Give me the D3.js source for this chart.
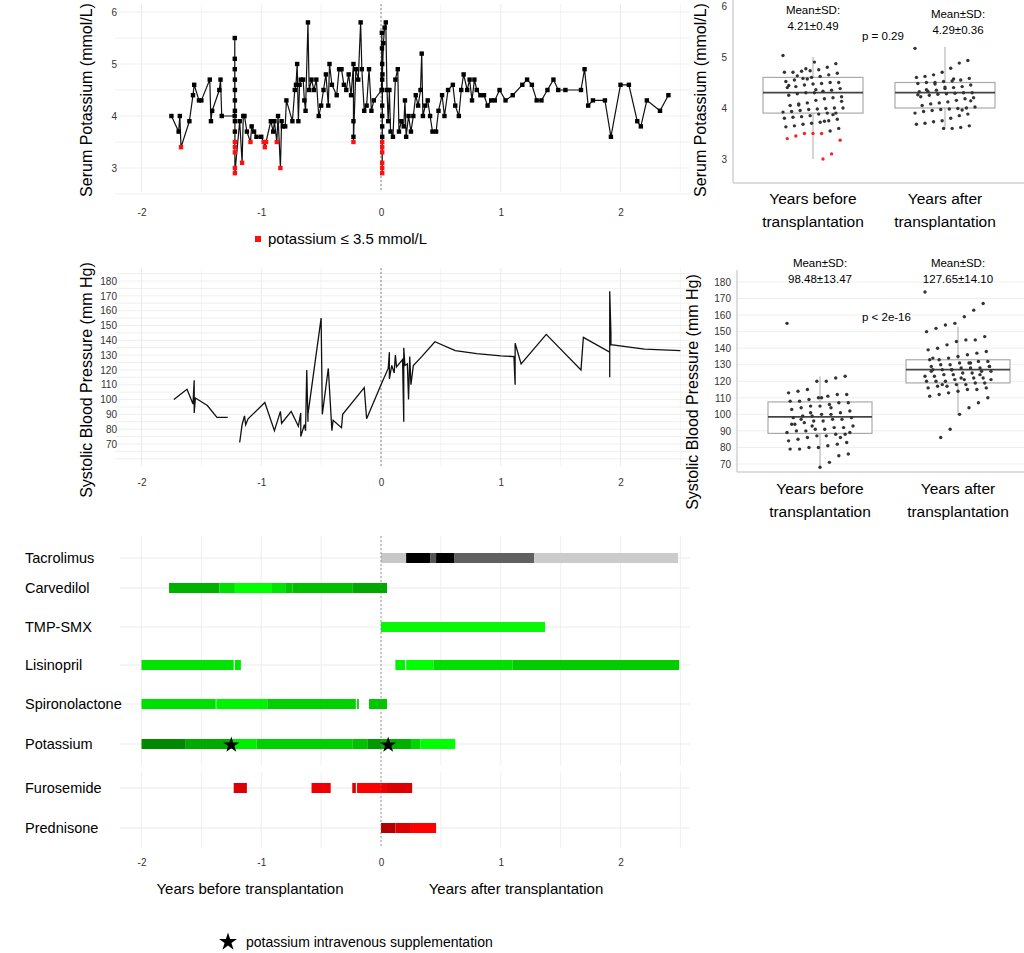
<!DOCTYPE html>
<html><head><meta charset="utf-8">
<script src="https://cdn.jsdelivr.net/npm/d3@7"></script>
<style>body{margin:0;background:#fff}svg{font-family:"Liberation Sans",Arial,sans-serif}</style>
</head><body><svg id="c" width="1024" height="953"></svg>
<script>
// serum potassium over time [years, mmol/L]
const potassium = [[-1.75,4.0],[-1.69,3.7],[-1.68,4.0],[-1.67,3.4],[-1.60,3.9],[-1.57,4.4],[-1.56,4.6],[-1.52,4.3],[-1.50,4.3],[-1.43,4.7],[-1.42,3.9],[-1.41,4.1],[-1.35,4.5],[-1.34,4.7],[-1.33,4.0],[-1.222,4.0],
[-1.221,5.5],[-1.221,5.1],[-1.221,4.9],[-1.22,4.7],[-1.22,4.5],[-1.22,4.3],[-1.22,4.1],[-1.22,3.9],[-1.22,3.7],[-1.22,3.5],[-1.22,3.4],[-1.22,3.3],[-1.22,3.0],[-1.22,2.9],
[-1.18,3.9],[-1.16,3.1],[-1.15,4.0],[-1.14,4.0],[-1.12,3.7],[-1.09,3.5],[-1.08,3.8],[-1.06,3.7],[-1.04,3.6],[-1.0,3.6],[-0.98,3.5],[-0.97,3.4],[-0.96,3.5],[-0.92,3.9],[-0.90,3.7],[-0.89,3.9],[-0.87,3.5],[-0.86,4.0],[-0.84,3.0],[-0.83,3.9],[-0.82,3.8],[-0.80,3.8],[-0.79,4.3],[-0.74,3.9],[-0.72,4.5],[-0.71,4.6],[-0.70,5.0],[-0.69,3.9],[-0.68,4.6],[-0.67,4.7],[-0.65,4.7],[-0.64,4.3],[-0.63,4.1],[-0.61,5.8],[-0.60,4.5],[-0.58,4.7],[-0.56,4.5],[-0.54,4.7],[-0.52,4.0],[-0.50,4.2],[-0.48,4.5],[-0.46,4.8],[-0.44,4.2],[-0.43,5.0],[-0.41,4.6],[-0.37,4.4],[-0.35,4.9],[-0.33,4.9],[-0.31,4.6],[-0.29,4.5],[-0.27,4.8],[-0.25,4.4],[-0.23,5.0],[-0.23,3.9],[-0.23,3.6],[-0.23,3.5],[-0.21,4.9],[-0.19,4.7],[-0.17,5.8],[-0.16,4.9],[-0.14,4.1],[-0.12,4.2],[-0.10,4.9],[-0.08,4.1],[-0.06,4.3],
[0.005,4.5],[0.007,5.6],[0.008,5.3],[0.01,5.0],[0.01,4.7],[0.01,4.5],[0.01,4.2],[0.01,4.0],[0.01,3.8],[0.01,3.6],[0.01,3.5],[0.01,3.4],[0.01,3.3],[0.01,3.1],[0.01,3.0],[0.01,2.9],[0.012,4.8],[0.02,5.4],
[0.03,5.7],[0.04,5.8],[0.05,4.5],[0.06,3.9],[0.07,4.5],[0.08,3.7],[0.10,3.6],[0.12,4.7],[0.14,4.9],[0.15,3.7],[0.17,3.9],[0.19,3.8],[0.20,4.3],[0.21,3.6],[0.23,4.0],[0.25,3.7],[0.27,4.0],[0.29,4.4],[0.31,4.2],[0.33,4.5],[0.34,5.2],[0.35,4.0],[0.37,4.2],[0.39,4.3],[0.41,4.0],[0.43,3.7],[0.46,3.7],[0.48,4.1],[0.51,4.4],[0.53,4.0],[0.56,4.5],[0.60,4.6],[0.62,4.2],[0.65,4.0],[0.67,4.5],[0.69,4.8],[0.72,4.5],[0.74,4.7],[0.76,4.3],[0.78,4.7],[0.80,4.5],[0.83,4.4],[0.86,4.4],[0.89,4.2],[0.92,4.3],[0.95,4.3],[0.99,4.5],[1.04,4.3],[1.10,4.4],[1.18,4.6],[1.22,4.7],[1.26,4.6],[1.30,4.3],[1.34,4.3],[1.39,4.5],[1.44,4.7],[1.48,4.5],[1.54,4.5],[1.67,4.5],[1.70,4.9],[1.73,4.2],[1.77,4.3],[1.87,4.3],[1.92,3.6],[2.00,4.6],[2.07,4.6],[2.14,3.9],[2.17,3.8],[2.22,4.3],[2.33,4.1],[2.40,4.4]];

// systolic BP over time, two runs
const bpRun1 = [[-1.73,100],[-1.62,107],[-1.57,97],[-1.56,113],[-1.56,91],[-1.55,101],[-1.45,96],[-1.37,88],[-1.28,88]];
const bpRun2 = [[-1.18,71],[-1.16,83],[-1.14,89],[-1.13,83],[-1.11,87],[-0.97,98],[-0.89,79],[-0.84,92],[-0.83,84],[-0.75,92],[-0.69,82],[-0.67,91],[-0.67,75],[-0.64,83],[-0.63,79],[-0.62,120],[-0.61,85],[-0.61,90],[-0.50,155],[-0.49,90],[-0.44,121],[-0.41,79],[-0.40,86],[-0.33,81],[-0.32,90],[-0.14,108],[-0.12,87],[0.0,110],[0.06,121],[0.07,132],[0.07,114],[0.09,123],[0.11,118],[0.12,130],[0.13,122],[0.18,127],[0.19,85],[0.19,135],[0.20,123],[0.22,124],[0.23,100],[0.24,129],[0.25,110],[0.27,123],[0.34,129],[0.45,139],[0.62,133],[0.80,131],[1.0,129.5],[1.11,129],[1.12,110],[1.12,138],[1.17,124],[1.38,144],[1.67,120],[1.69,142],[1.91,132],[1.91,115],[1.91,173],[1.92,145],[1.92,137],[2.2,134],[2.5,133]];

// box plot samples
const kBefore = [5.03,4.87,4.8,4.75,4.73,4.72,4.7,4.7,4.68,4.65,4.62,4.6,4.58,4.55,4.52,4.5,4.5,4.48,4.47,4.45,4.42,4.4,4.38,4.35,4.33,4.3,4.3,4.28,4.25,4.22,4.2,4.18,4.15,4.1,4.08,4.05,4.0,4.0,3.99,3.98,3.97,3.95,3.93,3.92,3.9,3.9,3.88,3.85,3.83,3.82,3.8,3.78,3.75,3.72,3.7,3.68,3.65,3.63,3.6,3.55,3.5,3.5,3.5,3.45,3.4,3.37,3.1,3.0,4.9,4.77,4.63,4.44,4.13,3.87,3.74,4.36,4.57,4.06];
const kAfter = [5.17,4.93,4.88,4.78,4.7,4.65,4.62,4.6,4.58,4.55,4.53,4.52,4.5,4.5,4.48,4.45,4.42,4.4,4.38,4.35,4.33,4.32,4.3,4.3,4.29,4.28,4.27,4.25,4.22,4.2,4.18,4.15,4.12,4.1,4.08,4.05,4.02,4.0,3.99,3.98,3.97,3.95,3.93,3.9,3.88,3.85,3.8,3.75,3.73,3.7,3.68,3.65,3.62,3.6,3.6,4.47,4.36,4.26,4.14,3.96,4.57,4.41];
const bpBefore = [155,123,122,120,120,115,114,113,112,112,111,110,109,108,108,107,107,106,105,105,104,103,102,101,100,100,99,99,98,98,97,97,96,96,95,94,93,92,92,91,91,90,90,89,88,88,87,87,86,85,84,83,82,81,80,80,79,79,76,75,71,68,101,97,94,89,86,104,110,93];
const bpAfter = [174,167,163,159,155,154,152,150,147,145,145,144,142,140,139,138,137,136,135,134,133,133,132,132,131,131,130,130,129,129,128,128,128,127,127,127,126,126,125,125,124,124,123,123,122,122,121,121,120,120,120,119,119,118,118,117,117,116,116,115,115,114,113,112,111,110,107,104,100,91,86,126,129,124,131,122,127,118,134,121];
const boxCats = ["Years before\ntransplantation", "Years after\ntransplantation"];
const kStats = [{q1:3.9,med:4.3,q3:4.6,lo:3.0,hi:5.0},{q1:4.0,med:4.3,q3:4.5,lo:3.6,hi:5.2}];
const bpStats = [{q1:88.5,med:98.5,q3:107.5,lo:68.5,hi:123},{q1:119,med:127,q3:133,lo:100,hi:153}];
const kNotes = ["4.21±0.49","4.29±0.36"];
const bpNotes = ["98.48±13.47","127.65±14.10"];

// medication timeline
const drugs = ["Tacrolimus","Carvedilol","TMP-SMX","Lisinopril","Spironolactone","Potassium","Furosemide","Prednisone"];
const doses = [
 ["Tacrolimus",0,0.21,"#c8c8c8"],["Tacrolimus",0.21,0.41,"#000"],["Tacrolimus",0.41,0.46,"#555"],["Tacrolimus",0.46,0.61,"#000"],["Tacrolimus",0.61,1.28,"#606060"],["Tacrolimus",1.28,2.48,"#cbcbcb"],
 ["Carvedilol",-1.77,-1.35,"#00b000"],["Carvedilol",-1.35,-1.22,"#00dd00"],["Carvedilol",-1.22,-0.91,"#00ff00"],["Carvedilol",-0.91,-0.80,"#00e400"],["Carvedilol",-0.80,-0.74,"#00c800"],["Carvedilol",-0.74,-0.24,"#00bf00"],["Carvedilol",-0.24,0.05,"#00a800"],
 ["TMP-SMX",0,1.37,"#08f808"],
 ["Lisinopril",-2.0,-1.23,"#00e400"],["Lisinopril",-1.22,-1.17,"#00ea00"],["Lisinopril",0.12,0.20,"#00f400"],["Lisinopril",0.21,0.44,"#00ff00"],["Lisinopril",0.44,1.10,"#00e000"],["Lisinopril",1.10,2.49,"#00cc00"],
 ["Spironolactone",-2.0,-1.38,"#00e000"],["Spironolactone",-1.375,-0.95,"#00f400"],["Spironolactone",-0.95,-0.21,"#00d000"],["Spironolactone",-0.20,-0.185,"#00d000"],["Spironolactone",-0.10,0.05,"#00c800"],
 ["Potassium",-2.0,-1.63,"#008800"],["Potassium",-1.63,-1.26,"#00aa00"],["Potassium",-1.26,-1.04,"#00ee00"],["Potassium",-1.04,-0.24,"#00d000"],["Potassium",-0.24,-0.11,"#00c000"],["Potassium",-0.11,0,"#009900"],["Potassium",0,0.25,"#00b000"],["Potassium",0.25,0.33,"#00d800"],["Potassium",0.33,0.62,"#00ff00"],
 ["Furosemide",-1.23,-1.12,"#dd0000"],["Furosemide",-0.58,-0.42,"#ee0000"],["Furosemide",-0.24,-0.21,"#dd0000"],["Furosemide",-0.20,0,"#ff0000"],["Furosemide",0,0.05,"#ee0000"],["Furosemide",0.05,0.26,"#dd0000"],
 ["Prednisone",0,0.12,"#b00000"],["Prednisone",0.12,0.25,"#dd0000"],["Prednisone",0.25,0.46,"#ff0000"]];
const ivStars = [-1.25, 0.06];
const xTicks = [-2,-1,0,1,2];

const svg = d3.select("#c");
const grid = "#ebebeb";
const fmt = d => String(d);
const x = d3.scaleLinear().domain([-2,2]).range([141.5,620.5]);
const xGrid = d3.range(-2,2.51,0.5);

function timeGrid(top, bottom, ys, yScale) {
  const g = svg.append("g");
  g.selectAll(".v").data(xGrid).join("line").attr("x1",d=>x(d)).attr("x2",d=>x(d)).attr("y1",top).attr("y2",bottom).attr("stroke",grid).attr("stroke-width",d=>Number.isInteger(d)?1:0.6);
  if (ys) g.selectAll(".h").data(ys).join("line").attr("x1",115).attr("x2",690).attr("y1",d=>yScale(d)).attr("y2",d=>yScale(d)).attr("stroke",grid).attr("stroke-width",0.8);
  g.append("line").attr("x1",x(0)).attr("x2",x(0)).attr("y1",top).attr("y2",bottom).attr("stroke","#888").attr("stroke-dasharray","2,2");
}
function xAxisAt(y) {
  const a = svg.append("g").attr("transform",`translate(0,${y})`).call(d3.axisBottom(x).tickValues(xTicks).tickSize(0).tickFormat(fmt));
  a.select(".domain").remove();
  a.selectAll("text").attr("fill","#333").style("font-size","10px");
}
function yTitle(tx, ty, s, size) {
  svg.append("text").attr("transform",`translate(${tx},${ty}) rotate(-90)`).attr("text-anchor","middle").style("font-size",size+"px").text(s);
}

// panel 1: potassium
const yK = d3.scaleLinear().domain([3,6]).range([168,12]);
timeGrid(4, 192, d3.range(2.5,6.01,0.5), yK);
const kl = svg.append("g").attr("transform","translate(120,0)")
  .call(d3.axisLeft(yK).tickValues([3,4,5,6]).tickSize(0).tickFormat(fmt));
kl.select(".domain").remove(); kl.selectAll("text").attr("fill","#333").style("font-size","10px");
svg.append("path").datum(potassium).attr("fill","none").attr("stroke","#111").attr("stroke-width",1.2)
  .attr("d",d3.line().x(d=>x(d[0])).y(d=>yK(d[1])));
svg.append("g").selectAll("rect").data(potassium).join("rect")
  .attr("x",d=>x(d[0])-2.2).attr("y",d=>yK(d[1])-2.2).attr("width",4.4).attr("height",4.4)
  .attr("fill",d=>d[1]<=3.5?"#ff1010":"#000");
xAxisAt(206);
yTitle(92, 100, "Serum Potassium (mmol/L)", 16);
svg.append("rect").attr("x",255).attr("y",236).attr("width",6).attr("height",6).attr("fill","#ff1010");
svg.append("text").attr("x",268).attr("y",244).style("font-size","15px").text("potassium ≤ 3.5 mmol/L");

// panel 2: BP
const yB = d3.scaleLinear().domain([70,180]).range([444,281]);
timeGrid(268, 466, d3.range(60,186,5), yB);
const bl = svg.append("g").attr("transform","translate(120,0)")
  .call(d3.axisLeft(yB).tickValues(d3.range(70,181,10)).tickSize(0));
bl.select(".domain").remove(); bl.selectAll("text").attr("fill","#333").style("font-size","10px");
const bline = d3.line().x(d=>x(d[0])).y(d=>yB(d[1]));
svg.selectAll(".bp").data([bpRun1,bpRun2]).join("path").attr("fill","none").attr("stroke","#111").attr("stroke-width",1.3).attr("d",bline);
xAxisAt(476);
yTitle(92, 380, "Systolic Blood Pressure (mm Hg)", 16);

// panel 3: drugs
const rowY = {Tacrolimus:558,Carvedilol:588,"TMP-SMX":627,Lisinopril:665,Spironolactone:704,Potassium:744,Furosemide:788,Prednisone:828};
const yRow = d => rowY[d];
svg.append("g").selectAll("line").data(xGrid).join("line").attr("x1",d=>x(d)).attr("x2",d=>x(d)).attr("y1",536).attr("y2",765).attr("stroke",grid).attr("stroke-width",0.8);
svg.append("g").selectAll("line").data(xGrid).join("line").attr("x1",d=>x(d)).attr("x2",d=>x(d)).attr("y1",772).attr("y2",848).attr("stroke",grid).attr("stroke-width",0.8);
svg.append("g").selectAll("line").data(drugs).join("line").attr("x1",120).attr("x2",690).attr("y1",d=>yRow(d)).attr("y2",d=>yRow(d)).attr("stroke",grid);
svg.append("g").selectAll("rect").data(doses).join("rect")
  .attr("x",d=>x(d[1])).attr("width",d=>Math.max(1,x(d[2])-x(d[1]))).attr("y",d=>yRow(d[0])-5).attr("height",10).attr("fill",d=>d[3]);
svg.append("line").attr("x1",x(0)).attr("x2",x(0)).attr("y1",536).attr("y2",848).attr("stroke","#777").attr("stroke-dasharray","2,2").attr("stroke-opacity",0.7);
svg.append("g").selectAll("text").data(drugs).join("text").attr("x",25).attr("y",d=>yRow(d)+5).style("font-size","14.5px").text(d=>d);
const star = d3.symbol().type(d3.symbolStar).size(80);
svg.append("g").selectAll("path").data(ivStars).join("path").attr("d",star).attr("transform",d=>`translate(${x(d)},${yRow("Potassium")+1})`).attr("fill","#000");
xAxisAt(856);
svg.append("text").attr("x",250).attr("y",894).attr("text-anchor","middle").style("font-size","15px").text("Years before transplantation");
svg.append("text").attr("x",516).attr("y",894).attr("text-anchor","middle").style("font-size","15px").text("Years after transplantation");
svg.append("path").attr("d",d3.symbol().type(d3.symbolStar).size(100)).attr("transform","translate(228,942)");
svg.append("text").attr("x",246).attr("y",947).style("font-size","14px").text("potassium intravenous supplementation");

// box plots
function boxPanel(o) {
  const xc = d3.scalePoint().domain(boxCats).range(o.centers);
  const y = o.y;
  svg.append("g").selectAll("line").data(o.grid).join("line").attr("x1",o.left).attr("x2",1024).attr("y1",d=>y(d)).attr("y2",d=>y(d)).attr("stroke","#efefef");
  svg.append("line").attr("x1",o.left).attr("x2",o.left).attr("y1",o.top).attr("y2",o.bottom).attr("stroke","#bbb");
  svg.append("line").attr("x1",o.left).attr("x2",1024).attr("y1",o.bottom).attr("y2",o.bottom).attr("stroke","#bbb");
  const ax = svg.append("g").attr("transform",`translate(${o.left-3},0)`).call(d3.axisLeft(y).tickValues(o.ticks).tickSize(0).tickFormat(fmt));
  ax.select(".domain").remove(); ax.selectAll("text").attr("fill","#333").style("font-size","10px");
  o.stats.forEach((s,i) => {
    const c = xc(boxCats[i]), w = o.half;
    const g = svg.append("g");
    g.append("line").attr("x1",c).attr("x2",c).attr("y1",y(s.lo)).attr("y2",y(s.hi)).attr("stroke","#aaa");
    g.append("rect").attr("x",c-w).attr("width",2*w).attr("y",y(s.q3)).attr("height",y(s.q1)-y(s.q3)).attr("fill","#fff").attr("stroke","#aaa").attr("stroke-width",1.2);
    g.append("line").attr("x1",c-w).attr("x2",c+w).attr("y1",y(s.med)).attr("y2",y(s.med)).attr("stroke","#444").attr("stroke-width",1.8);
    // jitter is only a horizontal spread
    g.selectAll("circle").data(o.samples[i]).join("circle")
      .attr("cx",(d,j)=>c+(((j*37)%43)/42-0.5)*o.spread).attr("cy",d=>y(d)).attr("r",1.7)
      .attr("fill",d=>o.red&&d<=3.5?"#ff2020":"#333");
    svg.append("text").attr("x",c+o.noteDx[i]).attr("y",o.noteY[i]).attr("text-anchor","middle").style("font-size","11.5px").text("Mean±SD:");
    svg.append("text").attr("x",c+o.noteDx[i]).attr("y",o.noteY[i]+16).attr("text-anchor","middle").style("font-size","11.5px").text(o.notes[i]);
    boxCats[i].split("\n").forEach((t,k)=>svg.append("text").attr("x",c).attr("y",o.catY+k*23).attr("text-anchor","middle").style("font-size","15.5px").text(t));
  });
  svg.append("text").attr("x",o.pX).attr("y",o.pY).style("font-size","11.5px").text(o.p);
  yTitle(o.titleX, o.titleY, o.title, 16);
}
boxPanel({y:d3.scaleLinear().domain([3,6]).range([159,6]), left:733, top:0, bottom:183, ticks:[3,4,5,6], grid:[],
  centers:[813,945], half:50, spread:60, samples:[kBefore,kAfter], stats:kStats, red:true,
  notes:kNotes, noteDx:[0,13], noteY:[14,18], catY:204, pX:862, pY:40, p:"p = 0.29",
  title:"Serum Potassium (mmol/L)", titleX:706, titleY:100});
boxPanel({y:d3.scaleLinear().domain([70,180]).range([464,282]), left:737, top:270, bottom:472, ticks:d3.range(70,181,10), grid:d3.range(70,181,10),
  centers:[820,958], half:52, spread:66, samples:[bpBefore,bpAfter], stats:bpStats, red:false,
  notes:bpNotes, noteDx:[0,0], noteY:[267,267], catY:494, pX:862, pY:321, p:"p < 2e-16",
  title:"Systolic Blood Pressure (mm Hg)", titleX:698, titleY:392});
</script></body></html>
